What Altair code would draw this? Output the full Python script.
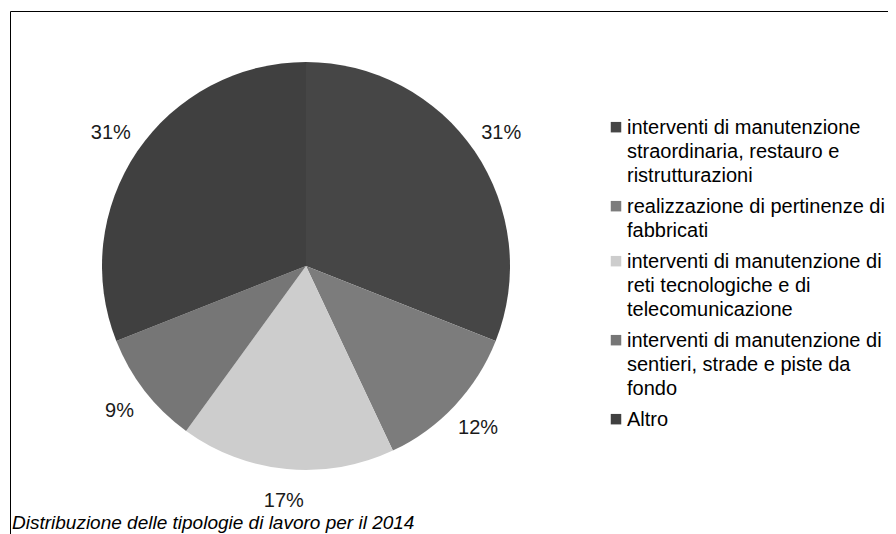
import altair as alt
import pandas as pd

# ---- data ----
categories = [
    "interventi di manutenzione\nstraordinaria, restauro e\nristrutturazioni",
    "realizzazione di pertinenze di\nfabbricati",
    "interventi di manutenzione di\nreti tecnologiche e di\ntelecomunicazione",
    "interventi di manutenzione di\nsentieri, strade e piste da\nfondo",
    "Altro",
]
shares = [31, 12, 17, 9, 31]
colors = ["#464646", "#7c7c7c", "#cdcdcd", "#767676", "#404040"]
caption = "Distribuzione delle tipologie di lavoro per il 2014"

df = pd.DataFrame({
    "categoria": categories,
    "quota": shares,
    "ordine": list(range(len(categories))),
})

FONT = "Liberation Sans"
CX, CY = 296, 255      # pie centre inside the view
R = 204
R_LABEL = 236

base = alt.Chart(df).encode(
    theta=alt.Theta("quota:Q", stack=True),
    order=alt.Order("ordine:Q"),
)

pie = base.mark_arc(outerRadius=R, x=CX, y=CY).encode(
    color=alt.Color(
        "categoria:N",
        sort=categories,
        scale=alt.Scale(domain=categories, range=colors),
        legend=alt.Legend(
            title=None,
            orient="none",
            legendX=596,
            legendY=97,
            symbolType="M-1,0.75H1V2.75H-1Z",
            symbolSize=110,
            symbolStrokeWidth=0,
            symbolOpacity=1,
            labelFont=FONT,
            labelFontSize=20,
            labelColor="#000000",
            labelExpr="split(datum.label, '\\n')",
            labelBaseline="top",
            labelLimit=400,
            labelOffset=1,
            rowPadding=1,
        ),
    ),
)

labels = base.transform_calculate(txt="datum.quota + '%'").mark_text(
    radius=R_LABEL, x=CX, y=CY, font=FONT, fontSize=20, color="#1a1a1a"
).encode(text="txt:N")

chart = (
    alt.layer(pie, labels)
    .properties(
        width=898,
        height=543,
        padding={"left": 2, "top": 3, "right": -20, "bottom": -20},
        autosize=alt.AutoSizeParams(type="none"),
        title=alt.TitleParams(
            caption,
            orient="bottom",
            anchor="start",
            font=FONT,
            fontSize=19,
            fontStyle="italic",
            fontWeight="normal",
            color="#000000",
            offset=-40,
            dx=2,
        ),
    )
    .configure_view(stroke="#000000", strokeWidth=1)
    .configure(
        background="white",
        style={
            "guide-label": {"lineHeight": 24},
            "view": {"stroke": "#000000", "strokeWidth": 1},
        },
    )
)

chart.save("out.html", embed_options={"renderer": "svg", "actions": False})
